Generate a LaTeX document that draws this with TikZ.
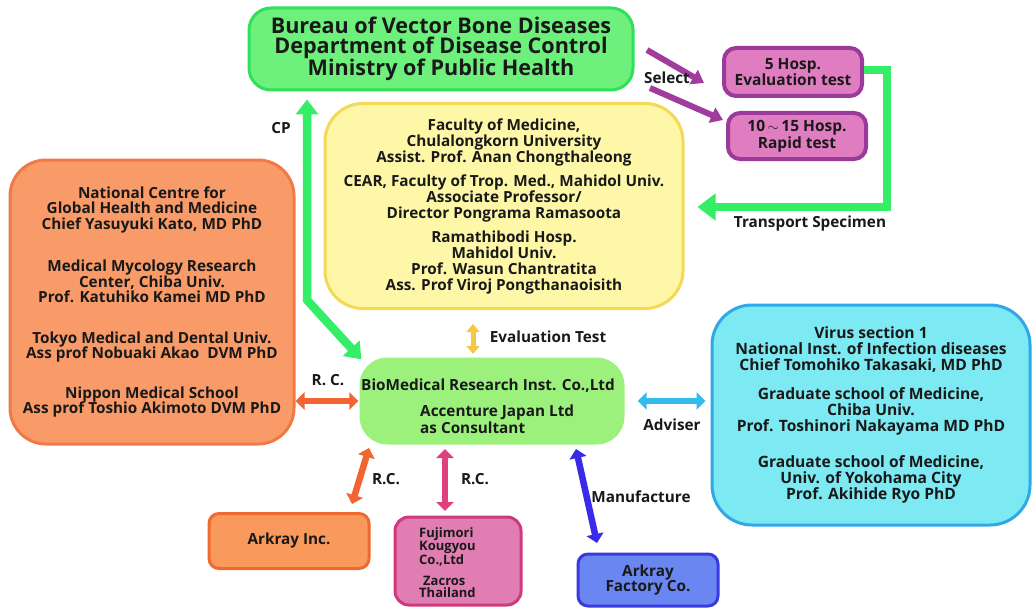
\documentclass[tikz,border=0pt]{standalone}
\usepackage{fontspec}
\setmainfont{Open Sans}
\usetikzlibrary{arrows.meta}

\definecolor{bureauFill}{HTML}{6EF07C}
\definecolor{bureauEdge}{HTML}{30E05A}
\definecolor{flowGreen}{HTML}{33EE66}
\definecolor{hospFill}{HTML}{E07CC0}
\definecolor{hospEdge}{HTML}{9A3A9A}
\definecolor{selPurple}{HTML}{A03C9E}
\definecolor{yelFill}{HTML}{FFF7A8}
\definecolor{yelEdge}{HTML}{F3D955}
\definecolor{oraFill}{HTML}{F99B68}
\definecolor{oraEdge}{HTML}{F07A45}
\definecolor{bioFill}{HTML}{9CF07C}
\definecolor{cyanFill}{HTML}{7DE9F2}
\definecolor{cyanEdge}{HTML}{30A8E8}
\definecolor{rcOrange}{HTML}{F26430}
\definecolor{advBlue}{HTML}{33BBEE}
\definecolor{evalYellow}{HTML}{F5C842}
\definecolor{rcPink}{HTML}{E0407F}
\definecolor{mfBlue}{HTML}{3A2BE8}
\definecolor{arkFill}{HTML}{F99A5C}
\definecolor{arkEdge}{HTML}{EE6A30}
\definecolor{fujFill}{HTML}{E07DB2}
\definecolor{fujEdge}{HTML}{D03A7A}
\definecolor{facFill}{HTML}{6A86F0}
\definecolor{facEdge}{HTML}{3A3AE0}

\begin{document}
\begin{tikzpicture}[x=1pt,y=-1pt,
  txt/.style={font=\bfseries\fontsize{15.3}{16}\selectfont, align=center, text=black!90, inner sep=0pt},
  panel/.style={txt, line width=3pt},
  lbl/.style={font=\bfseries\fontsize{15.3}{15}\selectfont, text=black!90, inner sep=0pt},
  dbl/.style={line width=6.5pt, arrows={Triangle[length=9pt,width=17pt]-Triangle[length=9pt,width=17pt]}},
  selarrow/.style={line width=6pt, draw=selPurple, arrows={-Triangle[length=12pt,width=16pt]}},
  flow/.style={line width=8.5pt, draw=flowGreen}
]
\useasboundingbox[fill=white] (0,0) rectangle (1032,607);

% --- boxes ---
\node[panel, fill=bureauFill, draw=bureauEdge, rounded corners=22pt,
      minimum width=384pt, minimum height=82pt,
      font=\bfseries\fontsize{21.6}{19.5}\selectfont] (bureau) at (441,49)
  {Bureau of Vector Bone Diseases\\Department of Disease Control\\Ministry of Public Health};

\node[panel, fill=hospFill, draw=hospEdge, line width=4pt, rounded corners=12pt,
      minimum width=138pt, minimum height=48pt,
      font=\bfseries\fontsize{15.5}{14}\selectfont] (hospA) at (793,72)
  {5 Hosp.\\Evaluation test};
\node[panel, fill=hospFill, draw=hospEdge, line width=4pt, rounded corners=12pt,
      minimum width=138pt, minimum height=46pt,
      font=\bfseries\fontsize{15.5}{14}\selectfont] (hospB) at (797,136)
  {10\,$\sim$\,15 Hosp.\\Rapid test};

\node[panel, fill=yelFill, draw=yelEdge, rounded corners=38pt,
      minimum width=358pt, minimum height=205pt] (univ) at (504,206)
  {Faculty of Medicine,\\Chulalongkorn University\\Assist. Prof. Anan Chongthaleong\\[8pt]
   CEAR, Faculty of Trop. Med., Mahidol Univ.\\Associate Professor/\\Director Pongrama Ramasoota\\[8pt]
   Ramathibodi Hosp.\\Mahidol Univ.\\Prof. Wasun Chantratita\\Ass. Prof Viroj Pongthanaoisith};

\node[panel, fill=oraFill, draw=oraEdge, rounded corners=36pt,
      minimum width=284pt, minimum height=284pt,
      font=\bfseries\fontsize{15.3}{15.5}\selectfont] (natl) at (152,302)
  {National Centre for\\Global Health and Medicine\\Chief Yasuyuki Kato, MD PhD\\[27pt]
   Medical Mycology Research\\Center, Chiba Univ.\\Prof. Katuhiko Kamei MD PhD\\[25pt]
   Tokyo Medical and Dental Univ.\\Ass prof Nobuaki Akao\ \ DVM PhD\\[24pt]
   Nippon Medical School\\Ass prof Toshio Akimoto DVM PhD};

\node[fill=bioFill, rounded corners=28pt, minimum width=265pt, minimum height=87pt] (bio) at (492,401) {};
\node[txt] (bioA) at (488,386) {BioMedical Research Inst. Co.,Ltd};
\node[txt, align=left, anchor=north west, font=\bfseries\fontsize{15.3}{12.5}\selectfont] (bioB) at (420,405)
  {Accenture Japan Ltd\\as Consultant};

\node[panel, fill=cyanFill, draw=cyanEdge, rounded corners=40pt,
      minimum width=318pt, minimum height=220pt,
      font=\bfseries\fontsize{15.6}{16}\selectfont] (virus) at (871,415)
  {Virus section 1\\National Inst. of Infection diseases\\Chief Tomohiko Takasaki, MD PhD\\[13pt]
   Graduate school of Medicine,\\Chiba Univ.\\Prof. Toshinori Nakayama MD PhD\\[20pt]
   Graduate school of Medicine,\\Univ. of Yokohama City\\Prof. Akihide Ryo PhD};

\node[panel, fill=arkFill, draw=arkEdge, rounded corners=10pt,
      minimum width=160pt, minimum height=55pt] (arkray) at (289,541) {Arkray Inc.};

\node[panel, fill=fujFill, draw=fujEdge, rounded corners=14pt,
      minimum width=126pt, minimum height=88pt] (fuji) at (458,561) {};
\node[txt, align=left, anchor=north west, font=\bfseries\fontsize{13}{12}\selectfont] (fujiT) at (419,527)
  {Fujimori\\Kougyou\\Co.,Ltd\\[9pt]\hspace*{4pt}Zacros\\Thailand};

\node[panel, fill=facFill, draw=facEdge, rounded corners=10pt,
      minimum width=140pt, minimum height=52pt,
      font=\bfseries\fontsize{15.3}{14}\selectfont] (factory) at (648,580) {Arkray\\Factory Co.};

% --- connector end points ---
\coordinate (cpBend) at (307,300);
\coordinate (trCorner) at (887,207);
\coordinate (selA) at (647,50);
\coordinate (selB) at (650,88);
\coordinate (evTop) at (473,324);
\coordinate (evBot) at (473,354);
\coordinate (rcTop) at (369,448);
\coordinate (rcBot) at (352,504);
\coordinate (pkTop) at (445,449);
\coordinate (pkBot) at (445,511);
\coordinate (mfTop) at (576,449);
\coordinate (mfBot) at (597,543);

% --- connectors ---
\draw[flow, arrows={Triangle[length=15pt,width=22pt]-Triangle[length=15pt,width=22pt]}]
  ([yshift=-8pt]cpBend |- bureau.south) -- (cpBend) -- ([shift={(2,2)}]bio.north west);
\draw[flow, arrows={-Triangle[length=18pt,width=26pt]}]
  ([yshift=2pt]hospA.east) -| (trCorner) -- ([xshift=13pt]univ.east |- trCorner);
\draw[selarrow] (selA) -- ([shift={(-18,11)}]hospA.west);
\draw[selarrow] (selB) -- ([shift={(-3,-16)}]hospB.west);
\draw[dbl, draw=evalYellow, line width=5pt, arrows={Triangle[length=8pt,width=13pt]-Triangle[length=8pt,width=13pt]}] (evTop) -- (evBot);
\draw[dbl, draw=rcOrange] (natl.east |- bio.west) -- ([xshift=-1pt]bio.west);
\draw[dbl, draw=advBlue] ([xshift=13pt]bio.east) -- ([xshift=-5pt]bio.east -| virus.west);
\draw[dbl, draw=rcOrange] (rcTop) -- (rcBot);
\draw[dbl, draw=rcPink] (pkTop) -- (pkBot);
\draw[dbl, draw=mfBlue] (mfTop) -- (mfBot);

% --- connector labels ---
\node[lbl] (selLbl) at (667,78) {Select};
\node[lbl] (trLbl) at (810,224) {Transport Specimen};
\node[lbl] (cpLbl) at (281,128) {CP};
\node[lbl] (evLbl) at (548,337) {Evaluation Test};
\node[lbl] (rcLbl) at (328,380) {R. C.};
\node[lbl] (advLbl) at (672,425) {Adviser};
\node[lbl] (rcLblB) at (386,479) {R.C.};
\node[lbl] (rcLblC) at (475,479) {R.C.};
\node[lbl] (mfLbl) at (641,497) {Manufacture};
\end{tikzpicture}
\end{document}
